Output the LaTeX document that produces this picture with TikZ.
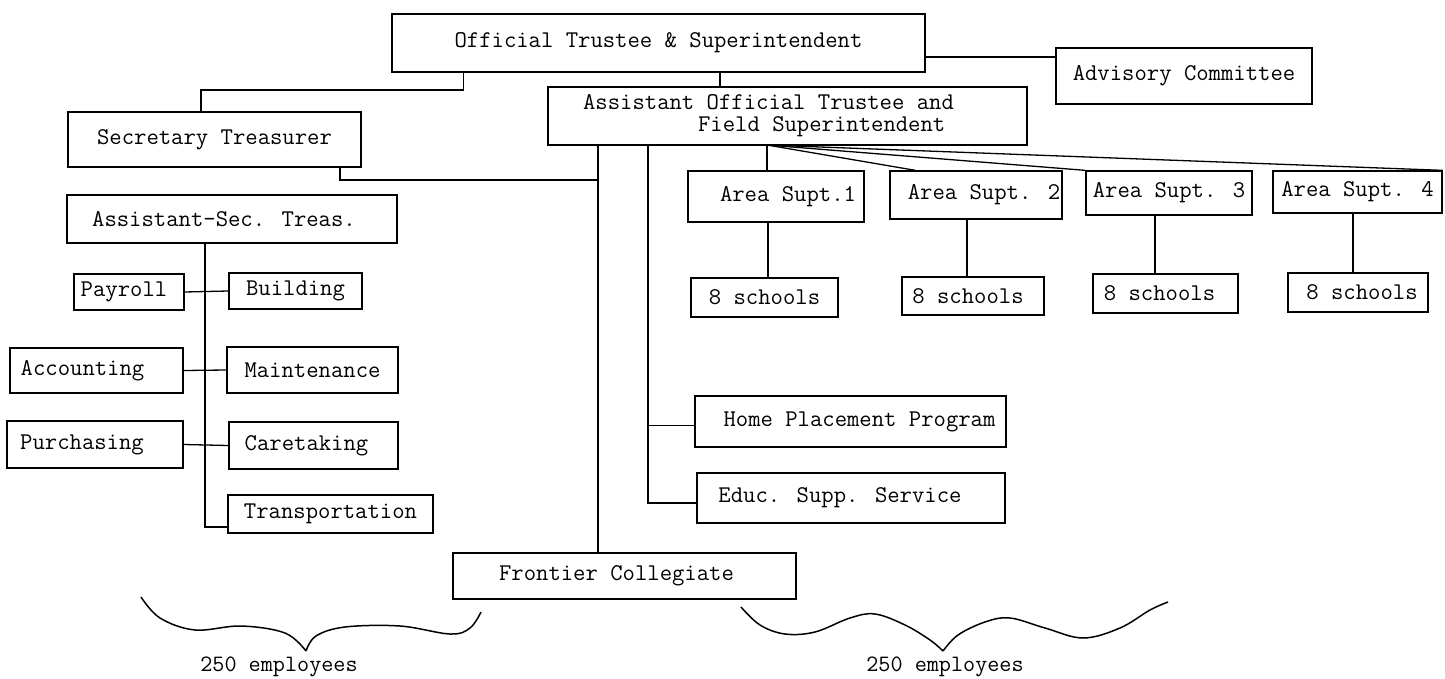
\documentclass[tikz,border=0pt]{standalone}
\usepackage{fontspec}
\begin{document}
\begin{tikzpicture}[x=1pt,y=-1pt,
  box/.style={draw, line width=1.3pt, inner sep=0pt, font=\ttfamily\fontsize{24}{26}\selectfont},
  conn/.style={line width=1.3pt},
  brace/.style={line width=1.5pt},
  lbl/.style={font=\ttfamily\fontsize{23.5}{26}\selectfont, inner sep=0pt}]
\useasboundingbox (0,0) rectangle (1445,679);
% top level
\node[box, minimum width=533pt, minimum height=58pt] (ot) at (658.5,43) {Official Trustee \& Superintendent};
\node[box, minimum width=256pt, minimum height=56pt] (adv) at (1184,76) {Advisory Committee};
\node[box, minimum width=293pt, minimum height=55pt] (sec) at (214.5,139.5) {Secretary Treasurer};
\node[box, minimum width=479pt, minimum height=58pt, align=left] (asstoff) at (787.5,116)
  {Assistant Official Trustee and\hspace*{38pt}\\[-4pt]\hspace*{115pt}Field Superintendent};
% area superintendents
\node[box, minimum width=176pt, minimum height=51pt] (area1) at (776,196.5) {\hspace*{24pt}Area Supt.1};
\node[box, minimum width=172pt, minimum height=48pt] (area2) at (976,195) {\hspace*{16pt}Area Supt. 2};
\node[box, minimum width=166pt, minimum height=44pt] (area3) at (1169,193) {Area Supt. 3};
\node[box, minimum width=169pt, minimum height=42pt] (area4) at (1357.5,192) {Area Supt. 4};
\node[box, minimum width=147pt, minimum height=39pt] (s1) at (764.5,297.5) {8 schools};
\node[box, minimum width=142pt, minimum height=38pt] (s2) at (973,296) {8 schools\hspace*{10pt}};
\node[box, minimum width=145pt, minimum height=39pt] (s3) at (1165.5,293.5) {8 schools\hspace*{12pt}};
\node[box, minimum width=140pt, minimum height=39pt] (s4) at (1358,292.5) {\hspace*{8pt}8 schools};
% secretary side
\node[box, minimum width=330pt, minimum height=48pt] (asstsec) at (232,219) {Assistant-Sec. Treas.\hspace*{16pt}};
\node[box, minimum width=110pt, minimum height=36pt] (payroll) at (129,292) {Payroll\hspace*{10pt}};
\node[box, minimum width=133pt, minimum height=36pt] (building) at (295.5,291) {Building};
\node[box, minimum width=173pt, minimum height=45pt] (accounting) at (96.5,370.5) {Accounting\hspace*{28pt}};
\node[box, minimum width=171pt, minimum height=46pt] (maint) at (312.5,370) {Maintenance};
\node[box, minimum width=176pt, minimum height=47pt] (purch) at (95,444.5) {Purchasing\hspace*{26pt}};
\node[box, minimum width=169pt, minimum height=47pt] (caret) at (313.5,445.5) {Caretaking\hspace*{14pt}};
\node[box, minimum width=205pt, minimum height=38pt] (transp) at (330.5,514) {Transportation};
% field side
\node[box, minimum width=311pt, minimum height=51pt] (home) at (850.5,421.5) {\hspace*{18pt}Home Placement Program};
\node[box, minimum width=308pt, minimum height=50pt] (educ) at (851,498) {Educ. Supp. Service\hspace*{22pt}};
\node[box, minimum width=343pt, minimum height=46pt] (frontier) at (624.5,576) {Frontier Collegiate\hspace*{16pt}};
% labels
\node[lbl] (emp1) at (279,667) {250 employees};
\node[lbl] (emp2) at (945,667) {250 employees};
% connectors
\draw[conn] ([xshift=72pt]ot.south west) |- (201,90) -- ([xshift=-13.5pt]sec.north);
\draw[conn] (ot.east |- 0,57) -- (adv.west |- 0,57);
\draw[conn] (ot.south -| 720,0) -- (asstoff.north -| 720,0);
\coordinate (bus) at (598,180);
\draw[conn] (sec.south -| 340,0) |- (bus);
\draw[conn] (asstoff.south -| 598,0) -- (frontier.north -| 598,0);
\draw[conn] (asstoff.south -| 648,0) |- ([yshift=-5pt]educ.west);
\draw[conn] ([yshift=-4pt]home.west) -- ([yshift=-4pt]home.west -| 648,0);
\coordinate (fan) at (767,145);
\draw[conn] (fan) -- (area1.north -| fan);
\draw[conn] (fan) -- ([xshift=26pt]area2.north west);
\draw[conn] (fan) -- (area3.north west);
\draw[conn] (fan) -- (area4.north east);
\draw[conn] (area1.south -| 768,0) -- (s1.north -| 768,0);
\draw[conn] (area2.south -| 967,0) -- (s2.north -| 967,0);
\draw[conn] (area3.south -| 1155,0) -- (s3.north -| 1155,0);
\draw[conn] (area4.south -| 1353,0) -- (s4.north -| 1353,0);
\draw[conn] (asstsec.south -| 205,0) |- ([yshift=-13pt]transp.west);
\draw[conn] (payroll.east) -- (building.west);
\draw[conn] (accounting.east) -- (maint.west);
\draw[conn] (purch.east) -- (caret.west);
% braces
\draw[brace] plot[smooth, tension=0.6] coordinates {(141,597) (160,618) (195,630) (241,626) (285,633) (306,651)};
\draw[brace] plot[smooth, tension=0.6] coordinates {(306,651) (316,636) (345,627) (400,626) (450,634) (470,628) (481,612)};
\draw[brace] plot[smooth, tension=0.6] coordinates {(741,607) (760,625) (785,634) (815,632) (850,618) (875,614) (905,625) (930,640) (943,651)};
\draw[brace] plot[smooth, tension=0.6] coordinates {(943,651) (958,635) (985,622) (1010,618) (1045,628) (1083,638) (1120,628) (1150,610) (1168,602)};
\end{tikzpicture}
\end{document}
